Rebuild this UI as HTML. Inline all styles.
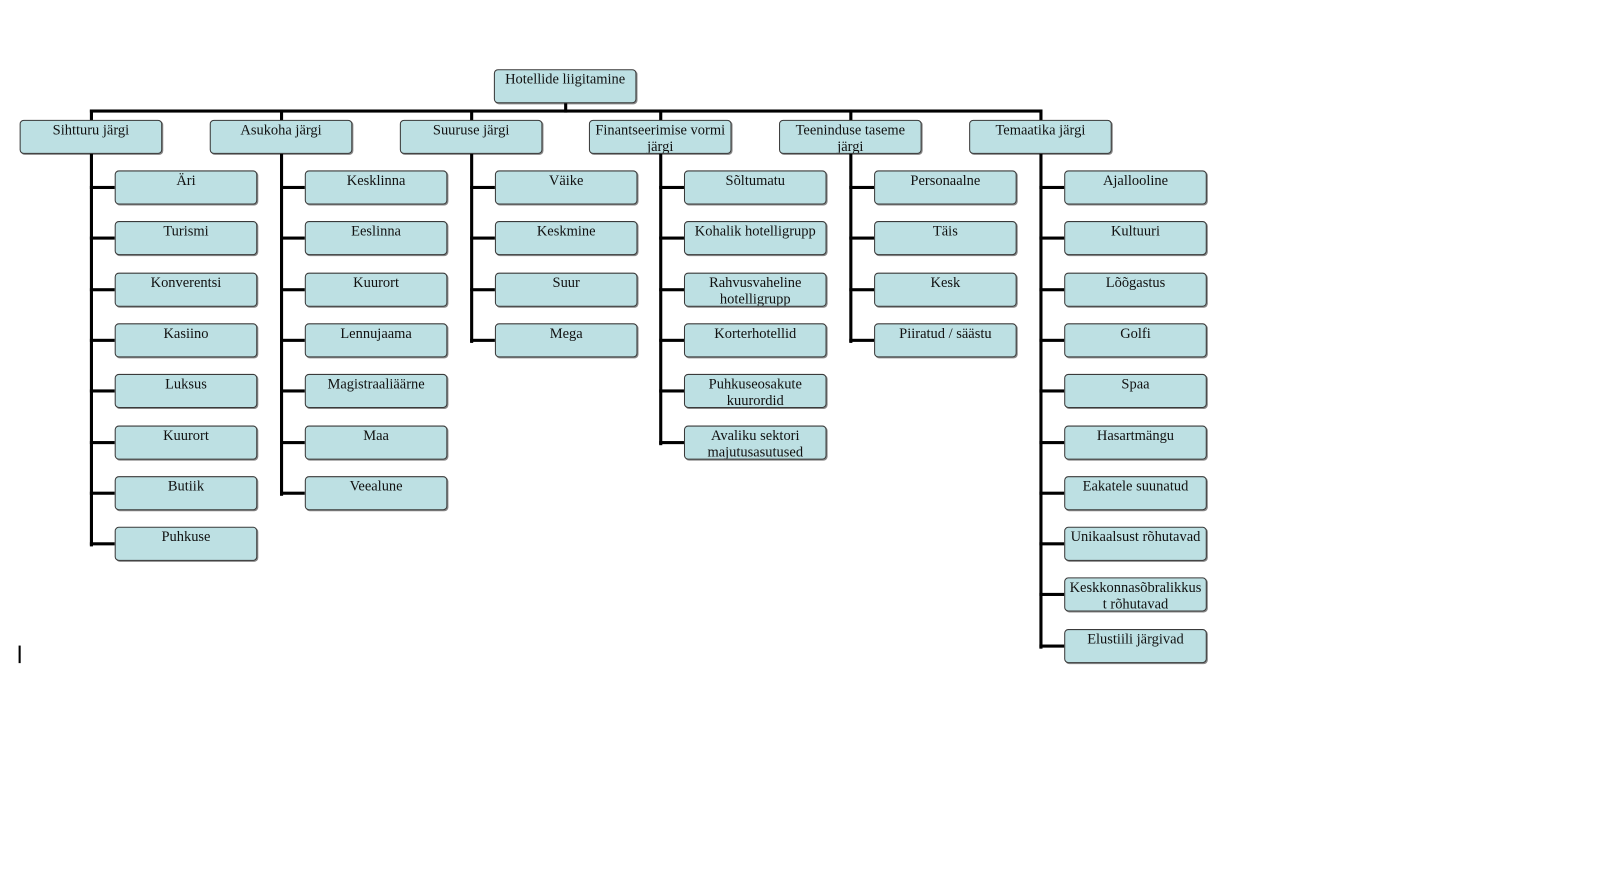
<!DOCTYPE html>
<html><head><meta charset="utf-8"><style>
html,body{margin:0;padding:0;background:#fff;width:1618px;height:880px;overflow:hidden}
#c{position:absolute;left:0;top:0;width:1566px;height:852px;transform-origin:0 0;transform:scale(1.0332,1.0329)}
.b{position:absolute;width:134px;background:#bde0e3;border:1px solid #3a3a3a;border-radius:4px;overflow:hidden;
font-family:"Liberation Serif",serif;font-size:14px;line-height:16px;color:#111;text-align:center;padding:2px 1px 0 1px;box-sizing:content-box;height:29px;box-shadow:1px 1px 0 #888;white-space:nowrap}
.l{position:absolute;background:#000}
</style></head><body><div id="c">
<div class="b" style="left:478px;top:67px">Hotellide liigitamine</div>
<div class="l" style="left:546px;top:100px;width:3px;height:9px"></div>
<div class="l" style="left:87px;top:106px;width:921px;height:3px"></div>
<div id="cols"></div>
<div class="l" style="left:18px;top:625px;width:2px;height:17px"></div>
</div>
<script>
var cols=[
["Sihtturu järgi",["Äri","Turismi","Konverentsi","Kasiino","Luksus","Kuurort","Butiik","Puhkuse"]],
["Asukoha järgi",["Kesklinna","Eeslinna","Kuurort","Lennujaama","Magistraaliäärne","Maa","Veealune"]],
["Suuruse järgi",["Väike","Keskmine","Suur","Mega"]],
["Finantseerimise vormi<br>järgi",["Sõltumatu","Kohalik hotelligrupp","Rahvusvaheline<br>hotelligrupp","Korterhotellid","Puhkuseosakute<br>kuurordid","Avaliku sektori<br>majutusasutused"]],
["Teeninduse taseme<br>järgi",["Personaalne","Täis","Kesk","Piiratud / säästu"]],
["Temaatika järgi",["Ajallooline","Kultuuri","Lõõgastus","Golfi","Spaa","Hasartmängu","Eakatele suunatud","Unikaalsust rõhutavad","Keskkonnasõbralikkus<br>t rõhutavad","Elustiili järgivad"]]];
var xs=[19,203,387,570,754,938],h="";
cols.forEach(function(c,i){var x=xs[i],vx=x+68;
h+='<div class="l" style="left:'+vx+'px;top:106px;width:3px;height:11px"></div>';
h+='<div class="b" style="left:'+x+'px;top:116px">'+c[0]+'</div>';
var n=c[1].length,last=165+(n-1)*49.3+16;
h+='<div class="l" style="left:'+vx+'px;top:149px;width:3px;height:'+(last-149+3)+'px"></div>';
c[1].forEach(function(t,j){var y=165+j*49.3;
h+='<div class="l" style="left:'+vx+'px;top:'+(y+15)+'px;width:24px;height:3px"></div>';
h+='<div class="b" style="left:'+(x+92)+'px;top:'+y+'px">'+t+'</div>';});});
document.getElementById('cols').innerHTML=h;
</script>
</body></html>
